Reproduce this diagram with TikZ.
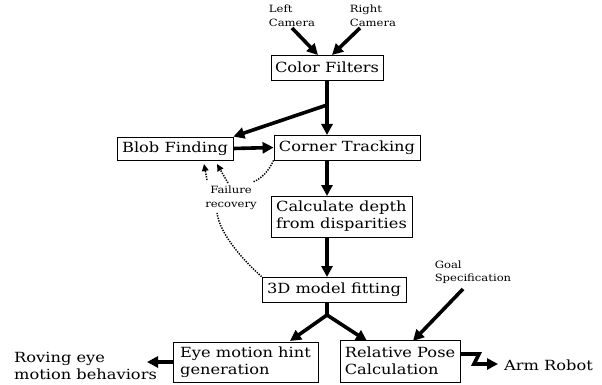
\documentclass[tikz,border=0pt]{standalone}
\usepackage{fontspec}
\setmainfont{DejaVu Serif}[FakeStretch=1.16]
\usetikzlibrary{arrows.meta,calc}
\begin{document}
\begin{tikzpicture}[x=1pt,y=-1pt,
  box/.style={draw,line width=0.8pt,inner sep=0pt,align=left,
    font=\fontsize{14}{17}\selectfont},
  small/.style={inner sep=0pt,font=\fontsize{10}{13.5}\selectfont},
  label/.style={inner sep=0pt,align=left,font=\fontsize{14}{17}\selectfont},
  bigarrow/.style={line width=3.6pt,-{Triangle[length=11pt,width=11pt]}},
  faildots/.style={line width=1.5pt,dash pattern=on 1.3pt off 1.3pt},
  failarrow/.style={faildots,-{Triangle[length=7pt,width=6.5pt]}}
]
\useasboundingbox (0,0) rectangle (602,385);
% boxes
\node[box,minimum width=112pt,minimum height=25pt] (colorf) at (327,67.5) {Color Filters};
\node[box,minimum width=116pt,minimum height=23pt] (blob) at (175,148.5) {Blob Finding};
\node[box,minimum width=146pt,minimum height=25pt] (corner) at (347,147.5) {Corner Tracking};
\node[box,minimum width=141pt,minimum height=41pt] (calc) at (341.5,216.5) {Calculate depth\\from disparities};
\node[box,minimum width=144pt,minimum height=25pt] (fit) at (334,289.5) {3D model fitting};
\node[box,minimum width=145pt,minimum height=40pt] (eye) at (245.5,362) {Eye motion hint\\generation};
\node[box,minimum width=120pt,minimum height=42pt] (rel) at (400,361) {Relative Pose\\Calculation};
% texts
\node[small,align=left] (leftcam) at (292,16) {Left\\Camera};
\node[small,align=left] (rightcam) at (373,16) {Right\\Camera};
\node[small,align=center] (fail) at (231,198) {Failure\\recovery};
\node[small,align=left] (goal) at (473,272) {Goal\\Specification};
\node[label,anchor=west] (roving) at (14,366) {Roving eye\\motion behaviors};
\node[label,anchor=west] (arm) at (504,365) {Arm Robot};
% coordinates
\coordinate (lcs) at (292,28);
\coordinate (lce) at (318,55);
\coordinate (rcs) at (360,28);
\coordinate (rce) at (332,55);
\coordinate (cfb) at (327,80);
\coordinate (br1) at (327,105);
\coordinate (ctt) at (327,135);
\coordinate (ctb) at (327,160);
\coordinate (cdt) at (327,196);
\coordinate (cdb) at (327,237);
\coordinate (fmt) at (327,277);
\coordinate (fmb) at (327,302);
\coordinate (br2) at (327,315);
\coordinate (eyet) at (290,341);
\coordinate (relt) at (367,341);
\coordinate (gs) at (463,289);
\coordinate (ge) at (413,341);
\coordinate (rovt) at (147,362);
\coordinate (z1) at (479,354);
\coordinate (z2) at (474,364);
\coordinate (z3) at (498,364);
\coordinate (f1e) at (253,182);
\coordinate (f2s) at (228,183);
\coordinate (f2e) at (217,164);
\coordinate (f3e) at (217,213);
\coordinate (f4s) at (207,180);
\coordinate (f4e) at (204,164);
% arrows
\draw[bigarrow] (lcs) -- (lce);
\draw[bigarrow] (rcs) -- (rce);
\draw[line width=3.6pt] (cfb) -- (br1);
\draw[bigarrow] (br1) -- (ctt);
\draw[bigarrow] (br1) -- (blob.north east);
\draw[bigarrow] (blob.east) -- (corner.west);
\draw[bigarrow] (ctb) -- (cdt);
\draw[bigarrow] (cdb) -- (fmt);
\draw[line width=3.6pt] (fmb) -- (br2);
\draw[bigarrow] (br2) -- (eyet);
\draw[bigarrow] (br2) -- (relt);
\draw[bigarrow] (gs) -- (ge);
\draw[bigarrow] (eye.west) -- (rovt);
\draw[bigarrow] ($(rel.east)+(0,-7)$) -- (z1) -- (z2) -- (z3);
% failure recovery
\draw[faildots] (corner.south west) .. controls (268,172) and (262,178) .. (f1e);
\draw[failarrow] (f2s) -- (f2e);
\draw[faildots] (fit.north west) .. controls (245,262) and (220,235) .. (f3e);
\draw[failarrow] (f4s) -- (f4e);
\end{tikzpicture}
\end{document}
